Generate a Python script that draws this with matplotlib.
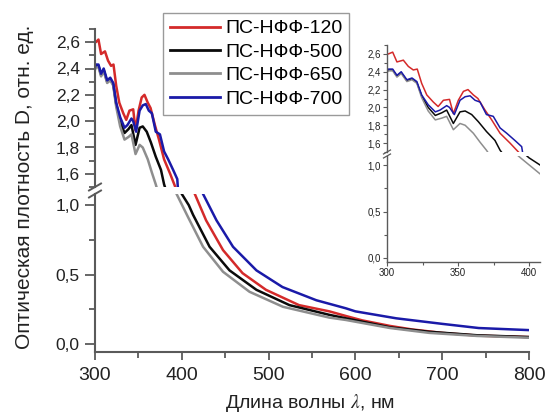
import matplotlib
matplotlib.use('Agg')
import matplotlib.pyplot as plt
from matplotlib.lines import Line2D
from matplotlib.ticker import MultipleLocator, FuncFormatter

plt.rcParams['font.family'] = ['Liberation Sans', 'DejaVu Sans']
plt.rcParams['mathtext.fontset'] = 'stix'

# ПС-НФФ-120
red_wl = [300, 301, 304, 307, 311.5, 315, 318.5, 321.3, 324.4, 328, 332.6, 336, 339.7, 344, 346.7,
          350.2, 353.8, 357, 360.8, 364, 369, 373.7, 379.6, 386.6, 392.5, 396,
          412, 415, 428, 447.5, 470, 497, 535, 570, 590, 608, 640, 665, 700, 742, 800]
red_d = [2.60, 2.60, 2.62, 2.51, 2.53, 2.46, 2.42, 2.43, 2.27, 2.14, 2.06, 2.01, 2.08, 2.09, 1.93,
         2.08, 2.18, 2.20, 2.14, 2.10, 1.97, 1.86, 1.71, 1.60, 1.50, 1.45,
         1.12, 1.08, 0.89, 0.676, 0.51, 0.39, 0.28, 0.235, 0.20, 0.17, 0.13, 0.105, 0.08, 0.06, 0.05]

# ПС-НФФ-500
black_wl = [300, 301, 304, 307, 310, 314, 317.6, 321, 324.4, 329, 334, 338.6, 342, 346.7, 351.4,
            355, 359.6, 364.3, 370, 376, 379.6, 383,
            397, 400, 408, 413, 432, 455, 486, 524, 570, 589, 640, 685, 740, 800]
black_d = [2.40, 2.42, 2.42, 2.35, 2.39, 2.30, 2.32, 2.28, 2.13, 2.00, 1.91, 1.94, 1.97, 1.82, 1.95,
           1.96, 1.92, 1.84, 1.73, 1.63, 1.52, 1.45,
           1.12, 1.08, 1.00, 0.93, 0.70, 0.53, 0.39, 0.28, 0.21, 0.185, 0.12, 0.088, 0.063, 0.05]

# ПС-НФФ-650
grey_wl = [300, 301, 304, 307, 310, 314, 317.6, 321, 324.4, 329, 334, 338.6, 342, 346.7, 351.4,
           355, 360.8, 365.5, 370, 373,
           391, 394, 407, 424.5, 447.5, 478, 516.5, 570, 589, 640, 685, 740, 800]
grey_d = [2.39, 2.41, 2.41, 2.34, 2.38, 2.29, 2.31, 2.27, 2.11, 1.96, 1.86, 1.88, 1.90, 1.75, 1.82,
          1.80, 1.71, 1.61, 1.52, 1.45,
          1.12, 1.08, 0.916, 0.70, 0.52, 0.376, 0.268, 0.19, 0.173, 0.115, 0.08, 0.058, 0.045]

# ПС-НФФ-700
blue_wl = [300, 301, 304, 307, 310, 314, 317.6, 321, 324.4, 329, 334, 337.3, 342, 344, 347.4,
           351.4, 355, 358.5, 362, 365.5, 370, 374.8, 379.6, 384.3, 390, 394.8, 395.4, 397,
           421, 424.5, 440, 459, 486, 516, 555, 589, 600, 647, 700, 742, 800]
blue_d = [2.41, 2.43, 2.43, 2.36, 2.40, 2.31, 2.33, 2.29, 2.14, 2.03, 1.95, 1.97, 2.02, 2.00, 1.92,
          2.08, 2.12, 2.13, 2.08, 2.06, 1.92, 1.90, 1.77, 1.71, 1.63, 1.56, 1.50, 1.45,
          1.13, 1.08, 0.89, 0.70, 0.53, 0.41, 0.315, 0.257, 0.235, 0.185, 0.145, 0.115, 0.10]

series = [
    ('ПС-НФФ-120', red_wl, red_d, '#d42a2a'),
    ('ПС-НФФ-500', black_wl, black_d, '#0a0a0a'),
    ('ПС-НФФ-650', grey_wl, grey_d, '#8e8e8e'),
    ('ПС-НФФ-700', blue_wl, blue_d, '#1a1aa8'),
]

W, H = 547, 417
fig = plt.figure(figsize=(W / 100, H / 100), dpi=100)


def px_axes(x0, y0, x1, y1):
    # pixel box -> figure axes
    return fig.add_axes([x0 / W, 1 - y1 / H, (x1 - x0) / W, (y1 - y0) / H])


def comma(v, _):
    return ('%.1f' % v).replace('.', ',')


spine_c = '#5a5a5a'

# main plot: upper and lower parts of the broken axis
ax_up = px_axes(95, 29, 529, 187)
ax_lo = px_axes(95, 194, 529, 352)
# inset
in_up = px_axes(387, 45, 540, 152)
in_lo = px_axes(387, 156, 540, 262)

for ax, lw in ((ax_up, 1.8), (ax_lo, 1.8), (in_up, 1.1), (in_lo, 1.1)):
    for name, wl, d, col in series:
        ax.plot(wl, d, color=col, lw=lw, label=name)
    ax.set_facecolor('none')
    for s in ('top', 'right'):
        ax.spines[s].set_visible(False)

for ax in (ax_up, in_up):
    # x ticks live on the lower panel only
    ax.xaxis.set_visible(False)
    ax.spines['bottom'].set_visible(False)
    ax.set_ylim(1.5, 2.7)
    ax.yaxis.set_major_locator(MultipleLocator(0.2))
    ax.yaxis.set_minor_locator(MultipleLocator(0.1))

for ax in (ax_up, ax_lo):
    ax.set_xlim(300, 800)
    ax.xaxis.set_major_locator(MultipleLocator(100))
    ax.xaxis.set_minor_locator(MultipleLocator(50))
    for s in ('left', 'bottom'):
        ax.spines[s].set_color(spine_c)
        ax.spines[s].set_linewidth(1.5)
    ax.tick_params(which='both', direction='out', color=spine_c, width=1.3, labelcolor='#222222')
    ax.tick_params(axis='y', which='major', length=7)
    ax.tick_params(axis='y', which='minor', length=4)
    ax.tick_params(axis='x', which='major', length=6)
    ax.tick_params(axis='x', which='minor', length=4)
    ax.tick_params(axis='y', labelsize=12.5, pad=4)
    ax.tick_params(axis='x', labelsize=14, pad=5)
    ax.yaxis.set_major_formatter(FuncFormatter(comma))

ax_lo.set_ylim(-0.0576, 1.08)
ax_lo.yaxis.set_major_locator(MultipleLocator(0.5))
ax_lo.yaxis.set_minor_locator(MultipleLocator(0.25))

for ax in (in_up, in_lo):
    ax.set_xlim(300, 407.7)
    ax.xaxis.set_major_locator(MultipleLocator(50))
    ax.xaxis.set_minor_locator(MultipleLocator(25))
    for s in ('left', 'bottom'):
        ax.spines[s].set_color(spine_c)
        ax.spines[s].set_linewidth(1.0)
    ax.tick_params(which='both', direction='out', color=spine_c, width=0.8,
                   labelsize=7, pad=1.5, labelcolor='#222222')
    ax.tick_params(which='major', length=3)
    ax.tick_params(which='minor', length=2)
    ax.yaxis.set_major_formatter(FuncFormatter(comma))

in_lo.set_ylim(-0.045, 1.1)
in_lo.yaxis.set_major_locator(MultipleLocator(0.5))
in_lo.yaxis.set_minor_locator(MultipleLocator(0.25))

# break marks on the left spines
for (cx, cy, dx, dy, lw) in ((95, 187, 6, 3.5, 1.4), (95, 194, 6, 3.5, 1.4),
                             (387, 152, 3.5, 2, 0.9), (387, 156, 3.5, 2, 0.9)):
    fig.add_artist(Line2D([(cx - dx) / W, (cx + dx) / W], [1 - (cy + dy) / H, 1 - (cy - dy) / H],
                          transform=fig.transFigure, color=spine_c, lw=lw))

leg = ax_up.legend(loc='upper left', bbox_to_anchor=(163 / W, 1 - 13 / H),
                   bbox_transform=fig.transFigure, fontsize=14, frameon=True, fancybox=False,
                   framealpha=1, edgecolor='#9a9a9a', handlelength=2.6, handletextpad=0.25,
                   labelspacing=0.3, borderpad=0.35, borderaxespad=0)
leg.get_frame().set_linewidth(1.0)
for line in leg.get_lines():
    line.set_linewidth(2.0)

fig.text(310 / W, 1 - 408 / H, r'Длина волны $\lambda$, нм', fontsize=14, ha='center',
         va='baseline', color='#222222')
fig.text(25 / W, 1 - 187 / H, 'Оптическая плотность D, отн. ед.', fontsize=15, rotation=90,
         ha='center', va='center', color='#222222')

fig.savefig('out.png', dpi=100)
